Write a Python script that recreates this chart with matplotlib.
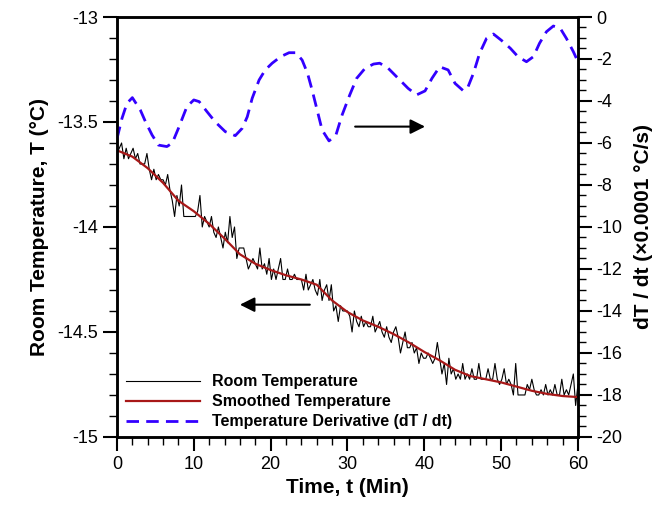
import matplotlib
matplotlib.use("Agg")
import matplotlib.pyplot as plt
import numpy as np
from matplotlib.ticker import MultipleLocator

plt.rcParams.update({
    "font.family": "Liberation Sans",
    "font.size": 13,
})

# raw room temperature, sampled every 0.3 min
raw_dt = 0.3
room_temp = [
    -13.650, -13.625, -13.600, -13.675, -13.625, -13.675, -13.650, -13.625, -13.675, -13.650,
    -13.700, -13.700, -13.700, -13.650, -13.725, -13.775, -13.725, -13.775, -13.750, -13.775,
    -13.775, -13.800, -13.750, -13.825, -13.875, -13.950, -13.850, -13.900, -13.800, -13.950,
    -13.950, -13.950, -13.950, -13.950, -13.950, -13.925, -13.850, -14.000, -13.950, -13.975,
    -14.000, -13.950, -14.025, -14.050, -14.000, -14.050, -14.100, -14.025, -14.075, -13.950,
    -14.050, -14.000, -14.150, -14.100, -14.100, -14.100, -14.150, -14.200, -14.175, -14.150,
    -14.175, -14.200, -14.100, -14.200, -14.175, -14.225, -14.150, -14.250, -14.200, -14.250,
    -14.200, -14.150, -14.250, -14.250, -14.200, -14.250, -14.250, -14.225, -14.250, -14.250,
    -14.250, -14.300, -14.225, -14.300, -14.275, -14.250, -14.300, -14.325, -14.250, -14.350,
    -14.300, -14.275, -14.350, -14.275, -14.400, -14.375, -14.450, -14.375, -14.400, -14.400,
    -14.400, -14.425, -14.500, -14.400, -14.450, -14.475, -14.425, -14.475, -14.450, -14.475,
    -14.475, -14.425, -14.500, -14.475, -14.450, -14.500, -14.525, -14.475, -14.525, -14.550,
    -14.500, -14.475, -14.525, -14.600, -14.550, -14.500, -14.575, -14.575, -14.550, -14.600,
    -14.575, -14.650, -14.600, -14.625, -14.625, -14.600, -14.625, -14.650, -14.625, -14.550,
    -14.625, -14.700, -14.650, -14.750, -14.625, -14.700, -14.675, -14.725, -14.700, -14.725,
    -14.650, -14.725, -14.700, -14.725, -14.675, -14.725, -14.725, -14.650, -14.725, -14.725,
    -14.725, -14.675, -14.725, -14.725, -14.650, -14.725, -14.750, -14.725, -14.675, -14.750,
    -14.725, -14.750, -14.800, -14.650, -14.800, -14.800, -14.800, -14.800, -14.750, -14.775,
    -14.725, -14.775, -14.800, -14.800, -14.775, -14.800, -14.750, -14.800, -14.775, -14.800,
    -14.750, -14.800, -14.800, -14.725, -14.800, -14.775, -14.800, -14.750, -14.700, -14.850,
    -14.750,
]

smooth_t = [0, 2, 4, 6, 8, 10, 12, 14, 16, 18, 20, 22, 24, 26, 28, 30,
            32, 34, 36, 38, 40, 42, 44, 46, 48, 50, 52, 54, 56, 58, 60]
smooth_temp = [-13.635, -13.665, -13.72, -13.79, -13.875, -13.925, -13.985, -14.055,
               -14.13, -14.175, -14.205, -14.23, -14.25, -14.275, -14.35, -14.405,
               -14.445, -14.475, -14.51, -14.55, -14.595, -14.635, -14.68, -14.71,
               -14.725, -14.74, -14.76, -14.78, -14.795, -14.805, -14.81]

deriv_t = [0.0, 0.65, 1.3, 2.0, 3.04, 3.7, 4.57, 5.4, 6.5, 7.2, 8.0, 9.1, 10.0, 10.7,
           11.7, 12.8, 14.1, 15.4, 16.3, 16.96, 17.6, 18.5, 19.3, 20.2, 21.3, 22.4,
           23.3, 24.1, 24.8, 25.4, 26.1, 26.7, 27.6, 28.5, 29.3, 30.3, 31.2, 32.3,
           33.4, 34.2, 35.3, 36.6, 37.9, 39.0, 40.1, 41.0, 42.0, 43.1, 44.0, 45.1,
           45.7, 46.4, 47.2, 48.1, 49.0, 50.0, 51.2, 52.2, 53.3, 54.2, 55.0, 55.9,
           56.8, 57.7, 58.5, 59.4, 59.8]
deriv = [-5.8, -4.83, -4.11, -3.84, -4.43, -4.98, -5.62, -6.1, -6.17, -6.0, -5.3,
         -4.27, -3.95, -4.03, -4.5, -5.0, -5.46, -5.65, -5.3, -4.75, -3.87, -3.0,
         -2.52, -2.2, -1.89, -1.7, -1.7, -2.05, -2.68, -3.48, -4.5, -5.38, -5.9,
         -5.62, -4.67, -3.71, -2.92, -2.44, -2.24, -2.2, -2.44, -2.92, -3.4, -3.71,
         -3.52, -2.92, -2.37, -2.52, -3.16, -3.52, -3.32, -2.68, -1.73, -1.02,
         -0.81, -1.1, -1.49, -1.89, -2.13, -1.89, -1.25, -0.7, -0.43, -0.54, -1.02,
         -1.65, -1.97]

x_ticks = [0, 10, 20, 30, 40, 50, 60]
left_ticks = [-15, -14.5, -14, -13.5, -13]
left_tick_labels = ["-15", "-14.5", "-14", "-13.5", "-13"]
right_ticks = list(range(-20, 1, 2))

raw_t = np.arange(len(room_temp)) * raw_dt

fig = plt.figure(figsize=(6.59, 5.09), dpi=100)
ax = fig.add_axes([0.1775, 0.1415, 0.6995, 0.8251])
ax2 = ax.twinx()

l1, = ax.plot(raw_t, room_temp, color="black", lw=0.8, label="Room Temperature")
l2, = ax.plot(smooth_t, smooth_temp, color="#A81818", lw=1.6, label="Smoothed Temperature")
l3, = ax2.plot(deriv_t, deriv, color="#3300FF", lw=2.0, linestyle=(0, (4.5, 2.6)),
               label="Temperature Derivative (dT / dt)")

ax.set_xlim(0, 60)
ax.set_ylim(-15, -13)
ax2.set_ylim(-20, 0)

ax.set_xticks(x_ticks)
ax.set_xticklabels([str(v) for v in x_ticks])
ax.xaxis.set_minor_locator(MultipleLocator(2))
ax.set_yticks(left_ticks)
ax.set_yticklabels(left_tick_labels)
ax.yaxis.set_minor_locator(MultipleLocator(0.1))
ax2.set_yticks(right_ticks)
ax2.set_yticklabels([str(v) for v in right_ticks])
ax2.yaxis.set_minor_locator(MultipleLocator(0.5))

for a in (ax, ax2):
    a.tick_params(which="major", length=10, width=1.5, labelsize=13)
    a.tick_params(which="minor", length=5.5, width=1.0)
    for s in a.spines.values():
        s.set_linewidth(1.8)

ax.set_xlabel("Time, t (Min)", fontsize=15, fontweight="bold", labelpad=4)
ax.set_ylabel("Room Temperature, T (\u00b0C)", fontsize=15, fontweight="bold", labelpad=6)
ax2.set_ylabel("dT / dt (\u00d70.0001 \u00b0C/s)", fontsize=15, fontweight="bold", labelpad=8)

# direction arrows
ax.annotate("", xy=(16.0, -14.37), xytext=(25.1, -14.37),
            arrowprops=dict(arrowstyle="-|>", color="black", lw=1.5,
                            mutation_scale=22, shrinkA=0, shrinkB=0))
ax.annotate("", xy=(40.1, -13.522), xytext=(31.0, -13.522),
            arrowprops=dict(arrowstyle="-|>", color="black", lw=1.5,
                            mutation_scale=22, shrinkA=0, shrinkB=0))

ax2.legend([l1, l2, l3], [l1.get_label(), l2.get_label(), l3.get_label()],
           loc="lower left", bbox_to_anchor=(0.02, 0.018), frameon=False,
           borderaxespad=0, borderpad=0, handlelength=4.6, handletextpad=0.8,
           labelspacing=0.32, prop={"weight": "bold", "size": 11.5})

fig.savefig("out.png", dpi=100, facecolor="white")
